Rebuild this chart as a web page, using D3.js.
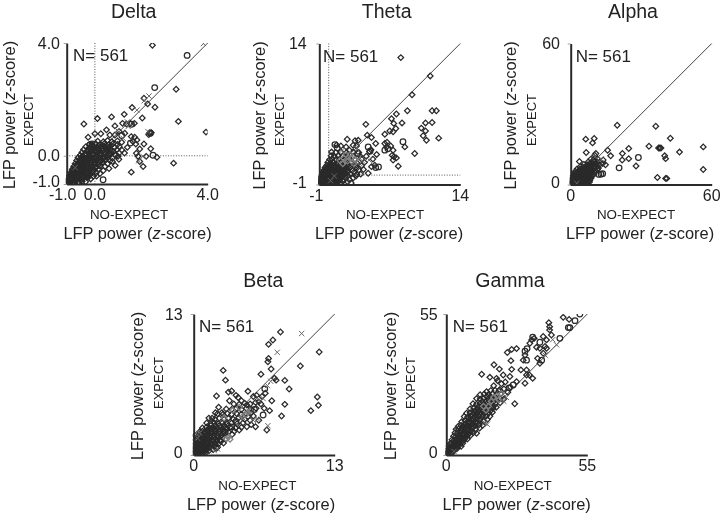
<!DOCTYPE html>
<html><head><meta charset="utf-8">
<script src="https://cdnjs.cloudflare.com/ajax/libs/d3/7.8.5/d3.min.js"></script>
<style>html,body{margin:0;padding:0;background:#fff}svg{display:block;filter:blur(.35px)}text{font-family:"Liberation Sans",Arial,sans-serif;fill:#222}</style>
</head><body><svg id="c" width="720" height="514"></svg>
<script>
const bandNames = ["Delta","Theta","Alpha","Beta","Gamma"];
const noteLabel = "N= 561";
const xCaption = "NO-EXPECT";
const yCaption = "EXPECT";

const deltaTicks = [-1,0,4];
const thetaTicks = [-1,14];
const alphaTicks = [0,60];
const betaTicks = [0,13];
const gammaTicks = [0,55];

const deltaDiamonds = [[2.04,3.92],[2.88,2.36],[2.96,1.22],[3.94,.84],[-.39,1.13],[.09,1.32],[.59,1.38],[1.04,1.47],[1.32,1.71],[1.74,2.04],[1.87,1.84],[2.13,1.72],[1.68,1.34],[.98,1.15],[1.12,1.13],[1.26,1.15],[1.4,1.15],[-.24,.66],[0,.78],[.21,.78],[.41,.92],[.71,1.06],[.53,.74],[.71,.74],[.86,.86],[1.06,.8],[1.94,.82],[2,.82],[1.91,.75],[1.29,.68],[1.41,.66],[1.49,.56],[1.35,.51],[1.45,.42],[1.74,.42],[1.59,.24],[1.98,.25],[2.2,-.05],[1.82,-.02],[1.47,.09],[1.53,-.02],[1.59,-.2],[1.71,-.38],[1.29,-.58],[2.79,-.26],[1.15,.3],[1.05,.1],[.95,.48],[.62,-.2],[.72,-.34],[.5,-.45],[.85,-.12],
[-.96,-.93],[-.9,-.95],[-.83,-.92],[-.76,-.94],[-.68,-.91],[-.58,-.93],[-.45,-.9],[-.33,-.92],[-.95,-.83],[-.88,-.8],[-.8,-.84],[-.71,-.81],[-.62,-.78],[-.53,-.83],[-.41,-.8],[-.28,-.77],[-.15,-.82],[-.9,-.7],[-.82,-.72],[-.73,-.68],[-.64,-.71],[-.54,-.67],[-.44,-.72],[-.33,-.68],[-.2,-.7],[-.06,-.73],[.06,-.72],[-.86,-.6],[-.76,-.57],[-.67,-.62],[-.58,-.56],[-.48,-.61],[-.37,-.57],[-.23,-.62],[-.1,-.57],[.05,-.6],[.18,-.63],[-.8,-.48],[-.72,-.51],[-.62,-.46],[-.52,-.5],[-.42,-.46],[-.3,-.5],[-.16,-.46],[-.02,-.51],[.14,-.47],[.3,-.52],[-.75,-.38],[-.66,-.41],[-.57,-.36],[-.47,-.4],[-.36,-.35],[-.24,-.4],[-.1,-.36],[.04,-.41],[.18,-.36],[.36,-.38],[-.7,-.28],[-.62,-.31],[-.52,-.26],[-.42,-.3],[-.3,-.25],[-.17,-.3],[-.03,-.26],[.12,-.31],[.27,-.25],[.45,-.28],[-.65,-.17],[-.54,-.21],[-.43,-.16],[-.33,-.2],[-.21,-.15],[-.08,-.2],[.06,-.16],[.2,-.21],[.36,-.15],[.54,-.18],[-.6,-.07],[-.48,-.11],[-.37,-.06],[-.24,-.1],[-.12,-.05],[.02,-.1],[.16,-.06],[.3,-.11],[.46,-.05],[.62,-.08],[-.52,.02],[-.42,-.02],[-.3,.03],[-.17,-.01],[-.04,.04],[.1,0],[.25,.04],[.4,-.01],[.56,.05],[.72,.02],[.82,-.02],[-.46,.12],[-.33,.08],[-.2,.13],[-.07,.09],[.07,.14],[.2,.1],[.35,.13],[.5,.09],[.66,.14],[.86,.1],[-.4,.22],[-.27,.18],[-.13,.23],[.01,.19],[.14,.24],[.28,.19],[.44,.23],[.6,.18],[.78,.22],[.96,.2],[-.32,.32],[-.21,.28],[-.07,.33],[.07,.29],[.22,.33],[.37,.28],[.52,.32],[.7,.29],[.86,.33],[-.2,.4],[-.1,.38],[.03,.43],[.18,.39],[.33,.43],[.48,.39],[.64,.43],[.8,.4],[.1,.52],[.3,.5],[.45,.54],[.6,.5],[.8,.53]];
const deltaCore = [[-.92,-.88],[-.86,-.87],[-.79,-.88],[-.72,-.87],[-.64,-.86],[-.5,-.87],[-.9,-.76],[-.84,-.76],[-.76,-.76],[-.67,-.75],[-.58,-.74],[-.47,-.76],[-.35,-.74],[-.22,-.75],[-.85,-.66],[-.77,-.64],[-.68,-.65],[-.6,-.64],[-.5,-.63],[-.4,-.64],[-.28,-.64],[-.15,-.65],[-.8,-.54],[-.7,-.55],[-.62,-.54],[-.53,-.54],[-.43,-.53],[-.33,-.54],[-.2,-.53],[-.07,-.54],[-.72,-.44],[-.64,-.42],[-.55,-.43],[-.46,-.43],[-.36,-.42],[-.25,-.43],[-.12,-.42],[.02,-.43],[-.66,-.33],[-.56,-.32],[-.47,-.33],[-.38,-.32],[-.27,-.32],[-.14,-.33],[0,-.32],[.12,-.33],[-.58,-.23],[-.48,-.22],[-.38,-.24],[-.27,-.22],[-.14,-.23],[-.01,-.22],[.13,-.23],[.28,-.22],[-.54,-.13],[-.42,-.12],[-.3,-.13],[-.18,-.12],[-.05,-.13],[.09,-.12],[.23,-.13],[.38,-.12],[-.46,-.03],[-.36,.06],[-.24,-.04],[-.11,.06],[.03,-.03],[.17,.06],[.32,-.04],[.48,.04],[-.26,.15],[-.14,.16],[0,.15],[.13,.16],[.27,.17],[.42,.16],[.58,.11],[-.18,.25],[-.03,.26],[.1,.26],[.24,.26],[.4,.25],[.55,.24],[-.08,.36],[.12,.36],[.27,.37],[.42,.35],[.58,.37]];
const deltaCircles = [[3.27,3.56],[2.12,2.42],[2.06,.02],[.29,-.85],[1.26,.45],[-.18,.39],[-.1,.42],[.95,.72],[1.97,.8],[1.3,1.12]];
const deltaCrosses = [[3.85,3.98],[1.92,2.12],[1.49,1.62],[1.18,1.04],[1,.62],[1.88,.86],[1.7,-.02],[1.55,-.18],[1.75,1.95],[1.15,1.2],[-.7,-.42],[.8,.9]];

const thetaDiamonds = [[7.67,12.5],[10.8,10.55],[8.87,8.54],[8.37,6.84],[11,6.84],[11.45,6.84],[7.2,6.5],[6.68,6],[7.8,5.55],[3.95,5.4],[6.92,5.5],[7.14,4.96],[6.5,4.7],[6.85,4.6],[5.97,4.35],[10.3,5.55],[11,5.6],[9.85,5],[10.3,4.7],[10.05,4.18],[10.4,3.7],[11.7,3.93],[1.97,3.82],[4.1,4.25],[4.55,4],[5,3.36],[2.8,3.65],[3.14,3.7],[2.6,3.18],[2.96,3.1],[.85,3.2],[1.3,3.1],[1.85,3],[2.2,2.65],[4.35,2.5],[5.97,3.36],[6.2,3.5],[6.15,3],[6.6,3.1],[6.85,2.65],[6.75,2.1],[6.95,1.95],[7.2,1.83],[6.85,1.6],[8.1,3],[9.15,2.3],[7.4,.95],[4.9,1.05],[4.55,.9],[4.2,.2],[3.7,.6],[3.4,.1],[4.7,1.7],[5.1,2.2],[4.5,2.7],
[-.9,-.92],[-.78,-.95],[-.62,-.9],[-.45,-.94],[-.28,-.91],[-.1,-.93],[.15,-.9],[.45,-.93],[.8,-.9],[1.3,-.92],[2.4,-.85],[-.92,-.72],[-.76,-.76],[-.6,-.7],[-.42,-.75],[-.24,-.7],[-.05,-.74],[.16,-.69],[.42,-.74],[.7,-.68],[1.05,-.72],[1.5,-.66],[2,-.7],[-.88,-.5],[-.72,-.55],[-.55,-.48],[-.37,-.53],[-.18,-.48],[.02,-.53],[.25,-.47],[.5,-.52],[.8,-.47],[1.15,-.52],[1.6,-.46],[2.2,-.5],[-.84,-.3],[-.66,-.35],[-.48,-.28],[-.3,-.33],[-.1,-.28],[.12,-.33],[.35,-.27],[.62,-.32],[.95,-.27],[1.3,-.32],[1.8,-.26],[2.6,-.3],[-.78,-.1],[-.6,-.14],[-.42,-.08],[-.22,-.13],[0,-.08],[.22,-.13],[.48,-.07],[.75,-.12],[1.1,-.07],[1.5,-.12],[2,-.05],[2.9,-.1],[-.7,.1],[-.52,.06],[-.33,.12],[-.12,.07],[.1,.12],[.34,.07],[.6,.13],[.9,.08],[1.25,.13],[1.7,.08],[2.3,.14],[3,.1],[-.6,.32],[-.42,.27],[-.22,.33],[0,.28],[.24,.33],[.5,.28],[.78,.33],[1.1,.28],[1.5,.33],[2,.28],[2.7,.32],[-.5,.55],[-.3,.5],[-.1,.56],[.14,.5],[.4,.56],[.68,.5],[1,.55],[1.35,.5],[1.85,.56],[2.5,.5],[3.2,.55],[-.38,.8],[-.18,.75],[.06,.8],[.32,.75],[.62,.8],[.95,.75],[1.3,.8],[1.75,.75],[2.3,.8],[3,.75],[-.2,1.05],[.05,1],[.3,1.05],[.6,1],[.92,1.05],[1.3,1],[1.7,1.05],[2.2,1],[2.9,1.05],[3.5,1],[-.1,1.35],[.2,1.3],[.5,1.35],[.85,1.3],[1.25,1.35],[1.7,1.3],[2.3,1.35],[3,1.3],[3.8,1.35],[.1,1.65],[.35,1.7],[.75,1.65],[1.15,1.7],[1.6,1.65],[2.15,1.7],[2.8,1.65],[3.5,1.7],[.25,2.05],[.6,2],[1,2.05],[1.5,2],[2,2.05],[2.6,2],[3.3,2.05],[4,2],[.3,2.45],[.75,2.4],[1.3,2.45],[1.9,2.4],[2.6,2.45],[3.2,2.4]];
const thetaCore = [[-.85,-.82],[-.68,-.83],[-.52,-.82],[-.36,-.83],[-.18,-.82],[.02,-.83],[.28,-.82],[.58,-.82],[-.82,-.62],[-.66,-.63],[-.5,-.62],[-.32,-.63],[-.14,-.62],[.08,-.62],[.3,-.6],[.58,-.6],[.9,-.6],[-.78,-.4],[-.62,-.42],[-.44,-.41],[-.26,-.4],[-.06,-.41],[.14,-.4],[.38,-.4],[.66,-.4],[.98,-.4],[-.72,-.2],[-.54,-.22],[-.36,-.2],[-.18,-.21],[.02,-.2],[.24,-.2],[.48,-.2],[.78,-.19],[1.1,-.2],[-.64,0],[-.46,-.02],[-.26,.01],[-.04,0],[.18,0],[.42,.01],[.7,0],[1,.01],[1.38,0],[-.54,.2],[-.34,.2],[-.12,.2],[.1,.2],[.36,.21],[.62,.2],[.92,.2],[1.25,.21],[-.42,.42],[-.2,.42],[.04,.42],[.3,.43],[.56,.42],[.86,.42],[1.2,.42],[1.6,.42],[-.28,.66],[-.04,.65],[.2,.66],[.48,.66],[.8,.65],[1.12,.66],[1.52,.65],[-.05,.9],[.2,.9],[.45,.9],[.78,.9],[1.12,.9],[1.5,.9],[2,.9]];
const thetaCircles = [[.66,3.25],[4.2,3],[4.4,2.55],[5.97,2.65],[7.9,3.55],[5.3,.87],[5,.8],[.9,2.9],[3.1,2.3],[6.3,2.8]];
const thetaCrosses = [[.2,-.6],[2.2,-.9],[3,2.8],[1.4,2.6],[2.5,1.1],[3.6,1.5],[4.3,1.6],[.6,-.1],[3.4,.9]];
const thetaGrays = [[1.2,1.55],[1.6,1.8],[2,1.5],[2.4,1.85],[2.8,1.6],[3.1,1.9],[1.8,2.2],[2.3,2.2],[1.5,1.2],[2.7,1.2]];

const alphaDiamonds = [[19.8,25.2],[36.2,24.8],[42.4,19.7],[6.4,19.3],[10,19.6],[9.3,17.7],[56.4,16],[33.3,16.3],[37.4,15.5],[37.9,15.5],[38.4,15.5],[24.7,15.3],[15.7,14.6],[22,13.2],[46.3,13.8],[40,12.2],[40.4,11],[17,12.2],[24.7,11],[21.9,10.4],[27.8,7.9],[56.4,6.4],[36.9,3],[40.4,2.6],[40.9,2.6],[6.6,13.6],[10.7,13.2],[10.2,12.5],[3.7,9.8],[13.8,10.4],[13.6,8.9],[11.8,7],[14.8,8.4],
[.3,.3],[1,.2],[1.8,.3],[2.8,.2],[4,.3],[5.4,.2],[7,.4],[.4,1],[1.2,1.1],[2,.9],[3,1.1],[4.1,.9],[5.3,1.1],[6.6,.9],[8,1.1],[.5,1.9],[1.3,1.7],[2.2,2],[3.2,1.8],[4.3,2],[5.5,1.8],[6.8,2],[8.2,1.9],[.7,2.8],[1.5,2.6],[2.4,2.9],[3.4,2.7],[4.6,2.9],[5.8,2.7],[7.2,2.9],[8.6,2.7],[1,3.7],[1.8,3.5],[2.8,3.8],[3.8,3.6],[5,3.8],[6.2,3.6],[7.6,3.8],[9.2,3.6],[1.5,4.7],[2.4,4.5],[3.4,4.8],[4.4,4.5],[5.6,4.8],[6.8,4.5],[8.2,4.8],[9.8,4.6],[2,5.6],[3,5.4],[4,5.7],[5.2,5.4],[6.4,5.7],[7.6,5.4],[9,5.7],[10.6,5.5],[2.7,6.6],[3.8,6.4],[4.8,6.7],[6,6.4],[7.2,6.7],[8.4,6.5],[9.8,6.7],[11.4,6.4],[4,7.5],[5.2,7.4],[6.4,7.6],[7.6,7.4],[8.8,7.7],[10,7.4],[11.5,7.7],[5.6,8.5],[7,8.4],[8.2,8.7],[9.4,8.4],[10.8,8.7],[12.2,8.4],[7.4,9.6],[8.8,9.5],[10,9.7],[11.4,9.5],[8.6,10.8],[10,10.7],[11.4,11]];
const alphaCore = [[.7,.7],[1.5,.6],[2.4,.7],[3.5,.6],[4.7,.7],[6,.6],[.9,1.5],[1.7,1.4],[2.6,1.5],[3.6,1.4],[4.8,1.5],[6,1.4],[7.2,1.5],[1.1,2.3],[1.9,2.3],[2.9,2.4],[3.9,2.3],[5,2.4],[6.3,2.4],[7.6,2.4],[1.4,3.1],[2.3,3.2],[3.2,3.2],[4.3,3.2],[5.5,3.3],[6.8,3.2],[8,3.2],[2,4.1],[3,4.1],[4,4.2],[5.2,4.2],[6.5,4.2],[8,4.2],[9.2,4.2],[3.5,5],[4.8,5.1],[6,5],[7.2,5],[8.6,5.1],[4.5,6],[5.6,6],[6.9,6],[8.2,6],[9.4,6],[6,7],[7.3,7],[8.5,7],[9.9,7.1],[7.6,8],[9,8],[10.2,8]];
const alphaCircles = [[28.8,11.5],[20.6,7.1],[12.9,4.4],[12,4.3],[13.6,4.6],[9.8,9.8]];
const alphaCrosses = [[2.6,.5],[10.4,11.8],[13,10.8]];

const betaDiamonds = [[8,11.34],[7.3,10.6],[6.9,10.2],[11.57,9.5],[6.9,8.9],[6.84,8.6],[9.83,8.2],[2.72,7.8],[7.14,7.93],[6.2,7.44],[2.93,6.9],[8.4,6.88],[7.45,7.07],[7.6,6.9],[8.8,6.08],[5,5.87],[11.4,5.35],[11.5,4.58],[10.8,4.09],[8.4,4.67],[8.1,3.6],[7.2,5],[7,4.09],[6.74,2.3],[2.1,5.44],[3.2,5.8],[3.5,5.9],[3.9,5.5],[4.1,5.3],[3.3,5],[4.4,5],[4.9,4.6],[5.5,5.4],[5.8,5.5],[6.3,5.4],[6.6,5.7],[6,4.9],[6.5,4.3],[5.5,3.6],[5.2,3.2],[4.9,2.6],[5.3,2.8],[5.7,2.6],[6,3.2],[2.6,3.9],[2.3,4.4],[2,3.9],[1.7,3.4],
[.1,.1],[.25,.2],[.42,.12],[.6,.2],[.82,.15],[1.1,.2],[.1,.4],[.28,.48],[.46,.38],[.66,.47],[.88,.39],[1.12,.48],[1.42,.4],[1.8,.5],[.12,.72],[.3,.8],[.5,.7],[.72,.8],[.95,.71],[1.2,.8],[1.5,.72],[1.85,.8],[2.2,.72],[2.1,.62],[.12,1.05],[.32,1.12],[.54,1.03],[.78,1.12],[1.02,1.04],[1.3,1.12],[1.6,1.04],[1.95,1.12],[2.3,1.04],[2.75,1.1],[.15,1.4],[.36,1.46],[.6,1.38],[.85,1.47],[1.12,1.38],[1.4,1.46],[1.72,1.38],[2.05,1.47],[2.45,1.38],[2.95,1.45],[.12,1.8],[.42,1.76],[.68,1.84],[.95,1.76],[1.22,1.85],[1.52,1.77],[1.85,1.85],[2.2,1.77],[2.6,1.85],[3.1,1.77],[3.55,1.9],[.55,2.14],[.8,2.2],[1.06,2.12],[1.34,2.2],[1.64,2.12],[1.98,2.2],[2.35,2.12],[2.75,2.2],[3.2,2.12],[3.75,2.2],[4.2,2.3],[.8,2.5],[1.18,2.56],[1.46,2.48],[1.78,2.56],[2.12,2.48],[2.5,2.56],[2.9,2.48],[3.35,2.56],[3.85,2.48],[4.4,2.55],[1.2,2.95],[1.55,2.88],[1.9,2.96],[2.25,2.88],[2.65,2.96],[3.05,2.88],[3.5,2.96],[4,2.88],[4.55,2.96],[1.4,3.4],[1.95,3.3],[2.35,3.38],[2.8,3.3],[3.2,3.38],[3.65,3.3],[4.1,3.38],[4.7,3.3],[5,3.55],[2.2,3.8],[2.7,3.75],[3.1,3.82],[3.5,3.75],[3.95,3.82],[4.4,3.75],[4.85,3.82],[5.3,3.9],[3,4.25],[3.5,4.2],[3.95,4.3],[4.4,4.2],[4.85,4.3],[5.3,4.2],[5.75,4.3],[3.7,4.7],[4.2,4.68],[4.7,4.78],[5.2,4.7],[5.7,4.85],[6.2,4.7]];
const betaCore = [[.2,.3],[.36,.3],[.55,.3],[.75,.3],[1,.3],[.2,.6],[.38,.6],[.58,.6],[.8,.6],[1.05,.6],[1.35,.6],[.22,.9],[.42,.92],[.64,.9],[.86,.92],[1.1,.92],[1.38,.92],[1.7,.92],[2,.92],[.45,1.25],[.68,1.25],[.92,1.26],[1.2,1.25],[1.48,1.26],[1.8,1.25],[2.15,1.26],[2.5,1.25],[.72,1.6],[.98,1.6],[1.26,1.62],[1.55,1.6],[1.88,1.62],[2.24,1.6],[2.65,1.62],[1,1.98],[1.3,1.98],[1.6,1.98],[1.92,1.98],[2.28,1.98],[2.68,1.98],[1.3,2.34],[1.6,2.34],[1.92,2.35],[2.3,2.34],[2.68,2.35],[3.05,2.34],[1.6,2.72],[2,2.72],[2.38,2.72],[2.78,2.72],[3.2,2.72]];
const betaCircles = [[6.4,3.69],[3.5,2.6],[3.9,3.1],[2.9,2.1],[5.6,4.2],[6.55,6.1]];
const betaCrosses = [[9.95,11.2],[7.7,9.47],[6.84,2.7],[2.2,.55],[1.9,.4],[5.9,3.3],[6.4,5.2],[6,5.05],[7.1,6.8],[6.8,6.4],[4.6,3.35],[5.5,3.2],[.2,2],[.55,2.05],[.35,1.55]];
const betaGrays = [[3,1.5],[3.2,1.65],[3.35,1.45],[4.8,3.7],[5,3.95],[5.2,4.05],[4.5,3.55],[2.8,3.4],[3.6,4.1],[4.2,4.4],[3.15,1.75]];

const gammaDiamonds = [[45.6,53.7],[47.9,52.9],[40,51.6],[40.3,50],[40.3,48.8],[41,46.8],[37.8,46.2],[39.1,44.9],[34.3,45.5],[33.3,44.9],[32.6,43.6],[27.4,41.5],[25.5,41.2],[23.8,40],[35.2,42],[36.5,41.6],[38.5,42.3],[39.1,41.6],[37.8,39.7],[35.6,37.7],[36.5,35.8],[30.7,39],[30,37],[25.2,36.8],[18.6,35.2],[20.7,33.5],[25.5,33.4],[29.1,33.2],[31.3,33.2],[13.8,31.5],[17,30.3],[22.2,31.2],[24.8,30.6],[19.6,29.9],[33.7,29.9],[30.7,28],[31.3,31.2],[32.4,31.2],[27.4,28.6],[26.7,20],[20,29],[21.5,27.8],[23,28.5],[18.5,27],[25,26.5],[24,24.5],[20.5,25],[22.5,25.8],
[.4,.6],[.9,.5],[.7,1.4],[1.4,1.2],[2,1],[2.7,1.3],[.9,2.4],[1.6,2.2],[2.4,2.1],[3.2,2.4],[4.2,2.5],[1.1,3.4],[1.9,3.2],[2.8,3.4],[3.7,3.2],[4.8,3.5],[5.8,3.4],[1.4,4.4],[2.2,4.6],[3.2,4.4],[4.2,4.6],[5.2,4.5],[6.4,4.6],[2.2,5.9],[2.9,5.7],[3.8,6],[4.8,5.8],[5.8,6],[7,5.9],[8.2,6.2],[2.8,7.3],[3.6,7.1],[4.6,7.4],[5.6,7.2],[6.8,7.4],[8,7.2],[9.4,7.6],[3.4,8.7],[4.3,8.5],[5.4,8.8],[6.6,8.6],[7.8,8.8],[9.2,8.6],[10.6,8.8],[11.8,8.5],[3.8,10],[4.8,10.2],[6,10],[7.2,10.3],[8.6,10],[10,10.3],[11.4,10.1],[13,10.5],[4.7,11.2],[5.8,11.5],[7,11.8],[8.3,11.5],[9.7,11.8],[11.2,11.5],[12.8,11.8],[14.2,11.6],[6,13],[7.3,13.4],[8.7,13],[10,13.4],[11.5,13],[13,13.4],[14.6,13.2],[16,13.8],[7,15],[8.3,14.8],[9.6,15.1],[11,14.8],[12.5,15.2],[14,14.9],[15.6,15.2],[17,15.1],[7.9,16.3],[9.3,16.5],[10.6,16.2],[12,16.6],[13.5,16.3],[15,16.6],[16.6,16.4],[18,16.7],[9.3,18],[10.7,18.3],[12.1,18],[13.5,18.3],[15,18],[16.5,18.3],[18.2,18.2],[19.5,18.6],[10.4,20],[11.8,19.8],[13.2,20.1],[14.6,19.8],[16.1,20.2],[17.6,19.9],[19.2,20.2],[21,20.4],[11.8,22],[13.2,21.8],[14.6,22.1],[16.2,21.8],[17.8,22.1],[19.3,21.9],[21,22],[22.4,21.8],[13.2,23.5],[14.8,23.8],[16.4,23.6],[18,23.9],[19.6,23.6],[21.2,23.9],[15.7,24.7],[17.4,25.2],[19,25.3],[20.8,25.5]];
const gammaCore = [[1.2,1.8],[2,1.8],[2.8,1.9],[3.4,2.9],[4.2,3],[2.6,4],[3.6,3.9],[4.6,4],[3.4,5.2],[4.3,5.2],[5.3,5.2],[6.3,5.3],[4.2,6.6],[5.2,6.6],[6.2,6.6],[7.3,6.7],[5,8],[6,8],[7.2,8],[8.4,8],[5.8,9.4],[7,9.4],[8.2,9.4],[9.6,9.4],[6.5,10.9],[7.8,10.9],[9,10.9],[10.5,10.9],[7.6,12.4],[9,12.4],[10.3,12.4],[11.8,12.4],[9,14],[10.4,14],[11.8,14],[13.3,14.1],[10.2,15.7],[11.6,15.7],[13,15.8],[14.4,15.7],[11.2,17.3],[12.8,17.2],[14.2,17.3],[15.8,17.3],[17.2,17.2],[12.6,19],[14,19],[15.4,19],[16.9,19],[18.4,19],[14,20.9],[15.4,20.9],[16.9,21],[18.5,20.9],[15.8,22.8],[17.2,22.8],[18.8,22.8]];
const gammaCircles = [[52.1,55],[50.2,52.4],[48.2,49.7],[47.6,49.7],[44.3,45.5],[30.7,40.5],[31.5,41.5],[37.2,37],[31.3,37],[26.1,27.3],[24.5,26.2],[33.7,46],[36.5,44]];
const gammaCrosses = [[41.5,45],[43,43],[38.5,39],[15,12.5],[16,12],[22.4,21],[23.4,22.5],[3,1.4]];
const gammaGrays = [[17.5,21],[18.5,22.5],[19.8,23],[20.5,21.5],[14.5,19],[15.5,17.5],[16.5,19],[21.5,24]];

const hyphenLocale = d3.formatLocale({decimal:".",thousands:",",grouping:[3],currency:["$",""],minus:"-"});
const fmt1 = hyphenLocale.format(".1f");
const fmt0 = hyphenLocale.format("d");

const panels = [
 {name:bandNames[0],domain:[-1,4],ticks:deltaTicks,fmt:fmt1,left:66.7,top:43,refs:true,titleX:133.7,titleY:17.6,noX:129,lfpX:137.5,yLfpX:14.6,expX:33,expY:120,nX:73,tickR:60,lowTickShift:-4,dia:deltaDiamonds,core:deltaCore,cir:deltaCircles,cro:deltaCrosses,gray:[]},
 {name:bandNames[1],domain:[-1,14],ticks:thetaTicks,fmt:fmt0,left:319.3,top:43.5,refs:true,titleX:386.7,titleY:17.6,noX:385,lfpX:389,yLfpX:265,expX:284,expY:120,nX:323,tickR:306.7,lowTickShift:-3,dia:thetaDiamonds,core:thetaCore,cir:thetaCircles,cro:thetaCrosses,gray:thetaGrays},
 {name:bandNames[2],domain:[0,60],ticks:alphaTicks,fmt:fmt0,left:570.7,top:43.5,refs:false,titleX:633,titleY:17.6,noX:636,lfpX:640,yLfpX:516,expX:535.7,expY:120,nX:575.7,tickR:560,lowTickShift:0,dia:alphaDiamonds,core:alphaCore,cir:alphaCircles,cro:alphaCrosses,gray:[]},
 {name:bandNames[3],domain:[0,13],ticks:betaTicks,fmt:fmt0,left:193.7,top:314,refs:false,titleX:263.3,titleY:287,noX:257.3,lfpX:261,yLfpX:142.7,expX:162.7,expY:383,nX:199,tickR:182.7,lowTickShift:0,dia:betaDiamonds,core:betaCore,cir:betaCircles,cro:betaCrosses,gray:betaGrays},
 {name:bandNames[4],domain:[0,55],ticks:gammaTicks,fmt:fmt0,left:446.3,top:314,refs:false,titleX:510,titleY:287,noX:512.7,lfpX:516.7,yLfpX:395.7,expX:415,expY:383,nX:452.7,tickR:437.7,lowTickShift:0,dia:gammaDiamonds,core:gammaCore,cir:gammaCircles,cro:gammaCrosses,gray:gammaGrays}
];

const svg = d3.select("#c");
const side = 141;
const diamond = d3.symbol().type(d3.symbolSquare).size(16);

function lfp(sel){
  sel.append("tspan").text("LFP power (");
  sel.append("tspan").attr("font-style","italic").text("z");
  sel.append("tspan").text("-score)");
}

panels.forEach((p,i)=>{
  const x = d3.scaleLinear().domain(p.domain).range([p.left,p.left+side]);
  const y = d3.scaleLinear().domain(p.domain).range([p.top+side,p.top]);
  const g = svg.append("g");
  const bottom = p.top+side, right = p.left+side;

  const clipId = "clip"+i;
  svg.append("clipPath").attr("id",clipId).append("rect")
    .attr("x",p.left-1).attr("y",p.top).attr("width",side+1).attr("height",side+1);

  if(p.refs){
    [[x(0),p.top,x(0),bottom],[p.left,y(0),right,y(0)]].forEach(c=>{
      g.append("line").attr("x1",c[0]).attr("y1",c[1]).attr("x2",c[2]).attr("y2",c[3])
       .attr("stroke","#555").attr("stroke-width",1).attr("stroke-dasharray","1 1.6");
    });
  }
  g.append("line").attr("x1",x(p.domain[0])).attr("y1",y(p.domain[0])).attr("x2",x(p.domain[1])).attr("y2",y(p.domain[1]))
    .attr("stroke","#444").attr("stroke-width",1);

  const marks = g.append("g").attr("clip-path",`url(#${clipId})`);
  marks.selectAll("path.d").data(p.dia.concat(p.core)).join("path").attr("class","d").attr("d",diamond)
    .attr("transform",d=>`translate(${x(d[0])},${y(d[1])}) rotate(45)`)
    .attr("fill","none").attr("stroke","#2a2a2a").attr("stroke-width",1.25);
  marks.selectAll("path.g").data(p.gray).join("path").attr("class","g").attr("d",diamond)
    .attr("transform",d=>`translate(${x(d[0])},${y(d[1])}) rotate(45)`)
    .attr("fill","none").attr("stroke","#808080").attr("stroke-width",1.3);
  marks.selectAll("circle").data(p.cir).join("circle")
    .attr("cx",d=>x(d[0])).attr("cy",d=>y(d[1])).attr("r",2.8)
    .attr("fill","none").attr("stroke","#2a2a2a").attr("stroke-width",1.25);
  marks.selectAll("path.x").data(p.cro).join("path").attr("class","x")
    .attr("d",d3.symbol().type(d3.symbolTimes).size(20))
    .attr("transform",d=>`translate(${x(d[0])},${y(d[1])})`)
    .attr("fill","none").attr("stroke","#666").attr("stroke-width",1);

  const ax = d3.axisBottom(x).tickValues(p.ticks).tickFormat(()=>"").tickSize(0).tickSizeOuter(0);
  const ay = d3.axisLeft(y).tickValues(p.ticks).tickFormat(()=>"").tickSize(3).tickSizeOuter(0);
  const ga = g.append("g").attr("transform",`translate(0,${bottom})`).call(ax);
  const gb = g.append("g").attr("transform",`translate(${p.left},0)`).call(ay);
  [ga,gb].forEach(s=>s.select(".domain").attr("stroke","#2a2a2a").attr("stroke-width",2));
  gb.selectAll(".tick line").attr("stroke","#888").attr("stroke-width",.8);

  p.ticks.forEach((t,k)=>{
    g.append("text").attr("x",x(t)+(k===0?p.lowTickShift:0)).attr("y",bottom+16)
      .attr("text-anchor","middle").attr("font-size",16).text(p.fmt(t));
    g.append("text").attr("x",p.tickR).attr("y",y(t)+(k===0?3:5.5))
      .attr("text-anchor","end").attr("font-size",16).text(p.fmt(t));
  });

  g.append("text").attr("x",p.titleX).attr("y",p.titleY).attr("text-anchor","middle").attr("font-size",19.5).text(p.name);
  g.append("text").attr("x",p.nX).attr("y",p.top+18).attr("font-size",17).text(noteLabel);
  g.append("text").attr("x",p.noX).attr("y",bottom+34.5).attr("text-anchor","middle").attr("font-size",13.4).text(xCaption);
  g.append("text").attr("x",p.lfpX).attr("y",bottom+54.5).attr("text-anchor","middle").attr("font-size",16.4).call(lfp);
  g.append("text").attr("transform",`translate(${p.yLfpX},${p.top+72}) rotate(-90)`).attr("text-anchor","middle").attr("font-size",16.4).call(lfp);
  g.append("text").attr("transform",`translate(${p.expX},${p.expY}) rotate(-90)`).attr("text-anchor","middle").attr("font-size",13).text(yCaption);
});
</script></body></html>
